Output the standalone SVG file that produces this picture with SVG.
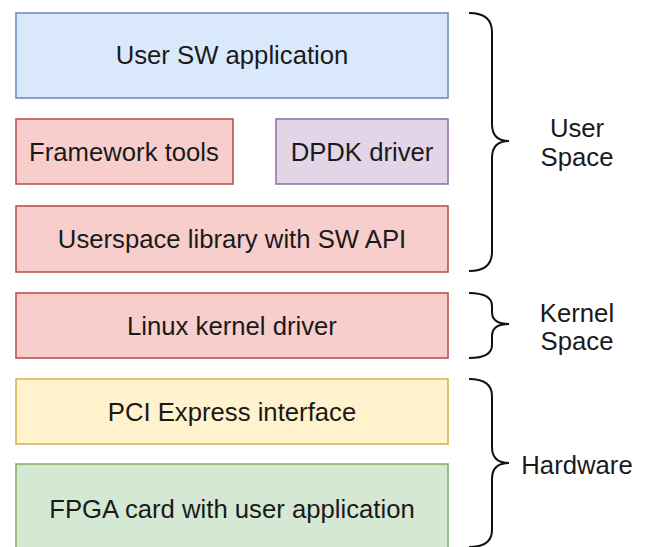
<svg xmlns="http://www.w3.org/2000/svg" width="646" height="547" viewBox="0 0 646 547">
  <style>
    .box { stroke-width: 1.6; }
    .blue { fill: #dae8fc; stroke: #6c8ebf; }
    .red { fill: #f8cecc; stroke: #b85450; }
    .purple { fill: #e1d5e7; stroke: #9673a6; }
    .yellow { fill: #fff2cc; stroke: #d6b656; }
    .green { fill: #d5e8d4; stroke: #82b366; }
    .lbl { font-family: "Liberation Sans", Arial, sans-serif; font-size: 25.7px; fill: #1a1a1a; text-anchor: middle; }
    .brace { fill: none; stroke: #111111; stroke-width: 2; }
  </style>
  <rect width="646" height="547" fill="#ffffff"/>

  <!-- software stack layers -->
  <g id="user-sw-application">
    <rect class="box blue" x="16" y="13" width="432" height="85"/>
    <text class="lbl" x="232" y="64">User SW application</text>
  </g>
  <g id="framework-tools">
    <rect class="box red" x="16" y="119" width="217" height="65"/>
    <text class="lbl" x="124" y="161">Framework tools</text>
  </g>
  <g id="dpdk-driver">
    <rect class="box purple" x="276" y="119" width="172" height="65"/>
    <text class="lbl" x="362" y="161">DPDK driver</text>
  </g>
  <g id="userspace-library">
    <rect class="box red" x="16" y="206" width="432" height="66"/>
    <text class="lbl" x="232" y="248">Userspace library with SW API</text>
  </g>
  <g id="linux-kernel-driver">
    <rect class="box red" x="16" y="293" width="432" height="65"/>
    <text class="lbl" x="232" y="335">Linux kernel driver</text>
  </g>
  <g id="pci-express-interface">
    <rect class="box yellow" x="16" y="379" width="432" height="65"/>
    <text class="lbl" x="232" y="421">PCI Express interface</text>
  </g>
  <g id="fpga-card">
    <rect class="box green" x="16" y="464" width="432" height="100"/>
    <text class="lbl" x="232" y="518">FPGA card with user application</text>
  </g>

  <!-- curly braces grouping the layers -->
  <g id="connectors">
    <path class="brace" d="M469 13 Q492 13 492 32 L492 124 Q492 141 509 141 Q492 141 492 158 L492 252 Q492 271 469 271"/>
    <path class="brace" d="M469 293 Q492 293 492 306 L492 312 Q492 324 509 324 Q492 324 492 336 L492 345 Q492 358 469 358"/>
    <path class="brace" d="M469 379 Q492 379 492 396 L492 447 Q492 463 509 463 Q492 463 492 479 L492 530 Q492 547 469 547"/>
  </g>

  <!-- group labels -->
  <g id="user-space-label">
    <text class="lbl" x="577" y="137">User</text>
    <text class="lbl" x="577" y="166">Space</text>
  </g>
  <g id="kernel-space-label">
    <text class="lbl" x="577" y="322">Kernel</text>
    <text class="lbl" x="577" y="350">Space</text>
  </g>
  <g id="hardware-label">
    <text class="lbl" x="577" y="474">Hardware</text>
  </g>
</svg>
